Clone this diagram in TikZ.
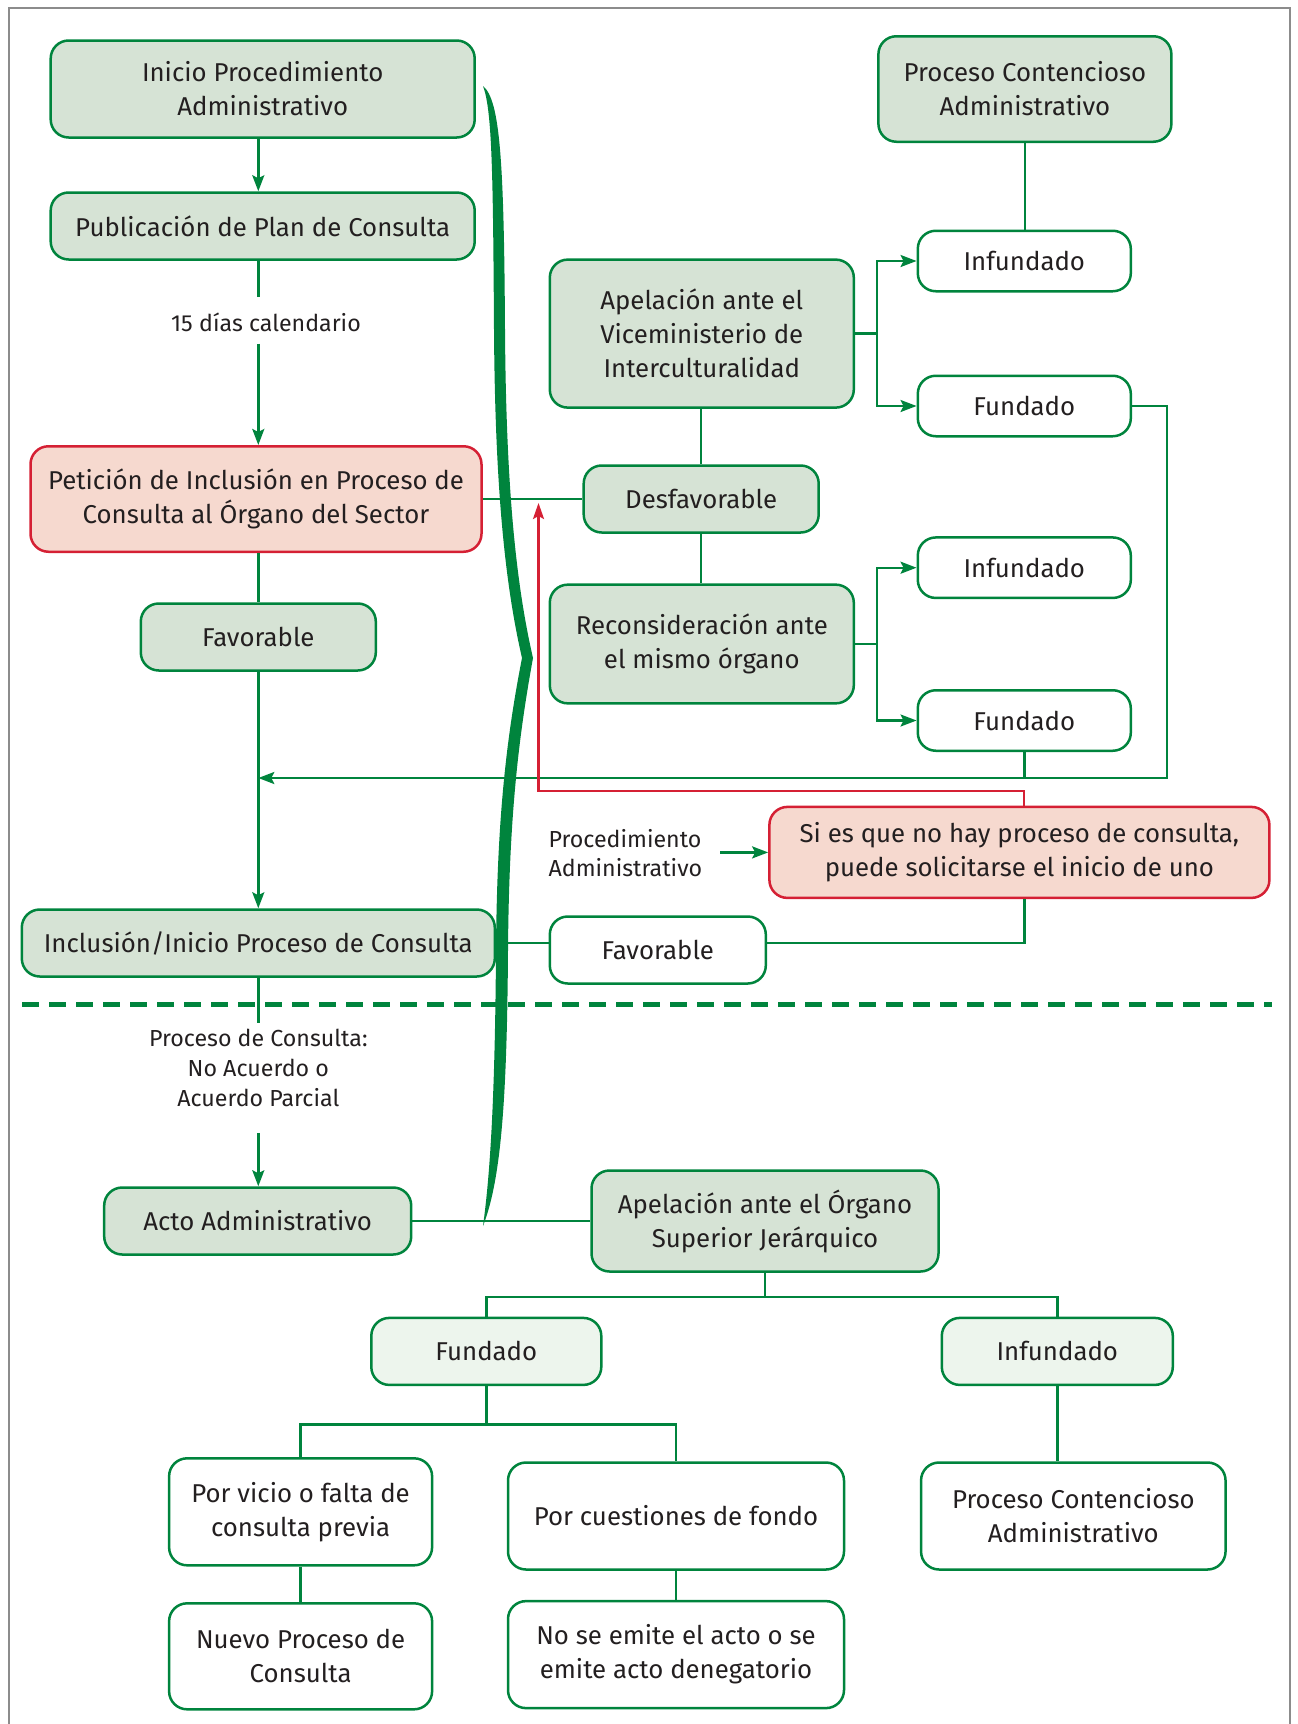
\documentclass[tikz,border=0pt]{standalone}
\usepackage{fontspec}
\setmainfont{Fira Sans}
\usetikzlibrary{arrows.meta}
\definecolor{G}{RGB}{0,132,61}
\definecolor{GF}{RGB}{214,227,213}
\definecolor{GL}{RGB}{237,245,237}
\definecolor{R}{RGB}{213,32,52}
\definecolor{RF}{RGB}{246,217,207}
\definecolor{TX}{RGB}{35,31,32}
\definecolor{FR}{RGB}{140,140,140}
\begin{document}
\begin{tikzpicture}[x=1pt,y=-1pt,
  box/.style={draw=G, line width=2.5pt, rounded corners=18pt, align=center, text=TX, inner sep=0pt, font=\fontsize{25.8}{34}\selectfont},
  gbox/.style={box, fill=GF},
  wbox/.style={box, fill=white},
  lbox/.style={box, fill=GL},
  rbox/.style={box, draw=R, fill=RF},
  lab/.style={text=TX, align=center, font=\fontsize{23.2}{29.7}\selectfont, inner sep=0pt},
  con/.style={draw=G, line width=2.4pt},
  arr/.style={con, -{Stealth[length=16pt,width=12pt,inset=3pt]}},
  rarr/.style={draw=R, line width=2.2pt, -{Stealth[length=16pt,width=11pt,inset=3pt]}},
]
\useasboundingbox (0,0) rectangle (1298,1724);
\draw[FR, line width=2.5pt] (9,1730) -- (9,8) -- (1290,8) -- (1290,1730);

% left column
\node[gbox, minimum width=424pt, minimum height=97pt] (ini) at (262.7,89) {Inicio Procedimiento\\Administrativo};
\node[gbox, minimum width=424pt, minimum height=67pt] (pub) at (262.7,226) {Publicación de Plan de Consulta};
\node[lab] (dias) at (266,322) {15 días calendario};
\node[rbox, minimum width=451pt, minimum height=105.5pt] (pet) at (256,499) {Petición de Inclusión en Proceso de\\Consulta al Órgano del Sector};
\node[gbox, minimum width=235pt, minimum height=67pt] (favL) at (258.3,637) {Favorable};
\node[gbox, minimum width=473pt, minimum height=67pt] (inc) at (258.3,943) {Inclusión/Inicio Proceso de Consulta};
\node[lab] (pcl) at (258.3,1068) {Proceso de Consulta:\\No Acuerdo o\\Acuerdo Parcial};
\node[gbox, minimum width=307pt, minimum height=67pt] (acto) at (257.7,1221) {Acto Administrativo};

% right upper
\node[gbox, minimum width=293pt, minimum height=105.5pt] (pct) at (1024.9,89) {Proceso Contencioso\\Administrativo};
\node[wbox, minimum width=213pt, minimum height=60.5pt] (inT) at (1024.3,261) {Infundado};
\node[gbox, minimum width=304pt, minimum height=148pt] (avi) at (701.8,333.6) {Apelación ante el\\Viceministerio de\\Interculturalidad};
\node[wbox, minimum width=213pt, minimum height=60.5pt] (fuT) at (1024.3,406) {Fundado};
\node[gbox, minimum width=235pt, minimum height=67pt] (des) at (701.2,499) {Desfavorable};
\node[wbox, minimum width=213pt, minimum height=60.5pt] (in2) at (1024.3,567.7) {Infundado};
\node[gbox, minimum width=304pt, minimum height=118.7pt] (rec) at (701.8,644) {Reconsideración ante\\el mismo órgano};
\node[wbox, minimum width=213pt, minimum height=60.5pt] (fu2) at (1024.3,720.5) {Fundado};
\node[rbox, minimum width=500pt, minimum height=91pt] (sie) at (1019.4,852.4) {Si es que no hay proceso de consulta,\\puede solicitarse el inicio de uno};
\node[lab, align=left, anchor=west] (pad) at (548.4,853) {Procedimiento\\Administrativo};
\node[wbox, minimum width=216pt, minimum height=67pt] (favR) at (657.8,950) {Favorable};

% bottom
\node[gbox, minimum width=347pt, minimum height=101pt] (apo) at (765,1221) {Apelación ante el Órgano\\Superior Jerárquico};
\node[lbox, minimum width=230pt, minimum height=67pt] (fb) at (486.3,1351.4) {Fundado};
\node[lbox, minimum width=231pt, minimum height=67pt] (ib) at (1057.3,1351.4) {Infundado};
\node[wbox, minimum width=263pt, minimum height=107pt] (vic) at (300.6,1511.8) {Por vicio o falta de\\consulta previa};
\node[wbox, minimum width=336pt, minimum height=107pt] (cue) at (676,1516) {Por cuestiones de fondo};
\node[wbox, minimum width=304.5pt, minimum height=107pt] (pcb) at (1073.3,1516) {Proceso Contencioso\\Administrativo};
\node[wbox, minimum width=263pt, minimum height=106pt] (nue) at (300.6,1656.3) {Nuevo Proceso de\\Consulta};
\node[wbox, minimum width=336pt, minimum height=107pt] (noe) at (676,1654.6) {No se emite el acto o se\\emite acto denegatorio};

% helper coordinates
\coordinate (bx) at (877,0);
\coordinate (rx) at (1167,0);
\coordinate (hy) at (0,778);
\coordinate (ry) at (0,791.3);
\coordinate (rtip) at (538.5,503);
\coordinate (t1) at (0,1297);
\coordinate (t2) at (0,1424.4);

% left column connectors
\draw[arr] (ini.south -| favL) -- (pub.north -| favL);
\draw[con] (pub.south -| favL) -- ([yshift=15pt]dias.north -| favL);
\draw[arr] ([yshift=-12pt]dias.south -| favL) -- (pet.north -| favL);
\draw[con] (pet.south -| favL) -- (favL.north);
\draw[arr] (favL.south) -- (inc.north);
\draw[con] (inc.south) -- ([yshift=6pt]pcl.north);
\draw[arr] ([yshift=-26pt]pcl.south) -- (acto.north -| pcl);

% right connectors
\draw[con] (pet.east) -- (des.west);
\draw[con] (des.north) -- (des.north |- avi.south);
\draw[con] (des.south) -- (des.south |- rec.north);
\draw[con] (pct.south) -- (pct.south |- inT.north);
\draw[con] (avi.east) -- (avi.east -| bx);
\draw[arr] (avi.east -| bx) |- (inT.west);
\draw[arr] (avi.east -| bx) |- (fuT.west);
\draw[con] (rec.east) -- (rec.east -| bx);
\draw[arr] (rec.east -| bx) |- (in2.west);
\draw[arr] (rec.east -| bx) |- (fu2.west);
\draw[arr] (fuT.east) -| (rx |- hy) -- (hy -| favL);
\draw[con] (fu2.south) -- (fu2.south |- hy);
\draw[rarr] (sie.north -| fu2) |- (rtip |- ry) -- (rtip);
\draw[arr] ([xshift=18pt]pad.east |- sie.west) -- (sie.west);
\draw[con] (sie.south -| fu2) |- (inc.east -| favR.east);
\draw[con] (inc.east) -- (inc.east -| favR.west);

% dashed separator
\draw[G, line width=5pt, dash pattern=on 17pt off 10pt] (22,1004.6) -- (1272,1004.6);

% bottom connectors
\draw[con] (acto.east) -- (acto.east -| apo.west);
\draw[con] (apo.south) -- (apo.south |- t1);
\draw[con] (fb.north) -- (fb.north |- t1) -- (ib.north |- t1) -- (ib.north);
\draw[con] (fb.south) -- (fb.south |- t2);
\draw[con] (vic.north) -- (vic.north |- t2) -- (cue.north |- t2) -- (cue.north);
\draw[con] (ib.south) -- (ib.south |- pcb.north);
\draw[con] (vic.south) -- (nue.north);
\draw[con] (cue.south) -- (noe.north);

% big brace
\fill[G] (483,86) .. controls (500,100) and (504,160) .. (505,330)
  .. controls (506,480) and (515,580) .. (533,658)
  .. controls (518,740) and (509,820) .. (508,950)
  .. controls (507,1100) and (501,1180) .. (483,1226)
  .. controls (490,1175) and (495,1100) .. (496,950)
  .. controls (497,820) and (506,740) .. (522,658)
  .. controls (504,580) and (495,480) .. (494,330)
  .. controls (493,170) and (492,110) .. (483,86) -- cycle;
\end{tikzpicture}
\end{document}
